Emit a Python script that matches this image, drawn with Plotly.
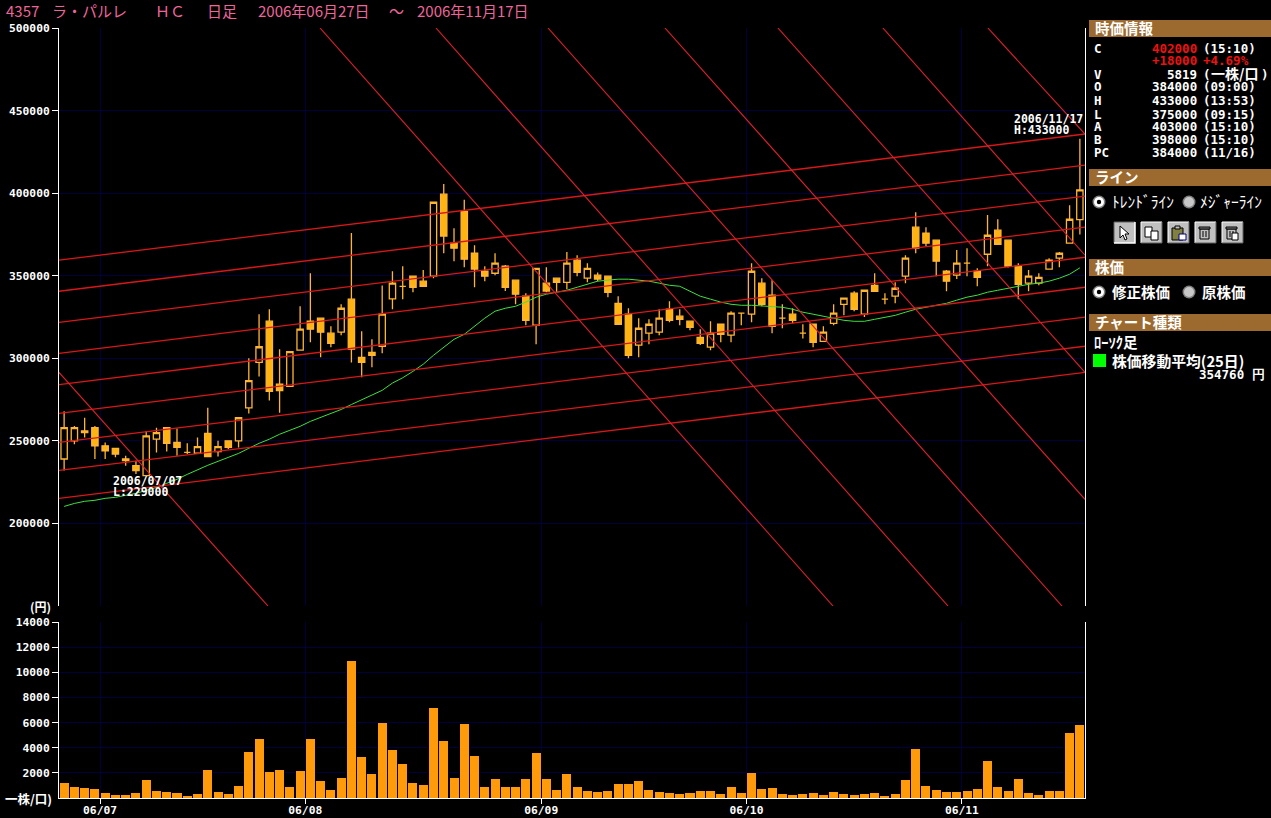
import plotly.graph_objects as go

OPEN = [239000,250000,256000,258000,247000,245500,239000,235000,229000,251000,
258000,249000,243000,242500,254500,243500,250000,250000,270000,297500,
322500,284300,283000,305000,322500,324300,315200,315800,335800,300600,
303600,307300,336000,343600,349700,346700,349700,399400,369700,389000,
363600,352700,351500,355800,347300,337600,320000,345500,348500,346000,
359400,348500,350300,349700,333300,326700,308000,315200,315800,329700,
325500,322500,312700,306700,320600,314000,327300,326700,345500,338200,
324300,326700,315200,320600,310300,321200,332700,339400,326700,344200,
335800,337600,349700,379400,375800,371500,352700,350300,357600,352700,
363000,377600,371500,355800,345500,345500,354000,360600,369700,384000]
HIGH = [268000,259000,264000,259000,249000,245500,241000,238000,256000,258000,
258000,257500,248500,252000,270000,250000,250000,264000,300000,326700,
329700,305500,304000,331500,351500,324300,319400,332700,375800,316400,
311500,344000,352700,355800,349700,353400,395000,405500,378800,396000,
368500,355800,363600,356500,347300,339400,354500,355200,348500,364300,
362400,357600,352000,349700,337600,330300,324300,323600,329700,334500,
329700,322500,317600,322500,320600,328500,327300,357600,348500,347300,
332700,330300,320600,320600,319400,332700,336400,340600,341200,351500,
339400,346000,362400,388500,379400,371500,353400,365500,366700,354500,
386700,384200,371500,357600,353400,351500,360600,364300,392700,433000]
LOW = [232000,248000,252000,239000,239000,240000,235000,230000,229000,243000,
243500,241000,242000,242500,240500,240500,245000,246000,266500,289000,
274500,267000,283000,305000,309700,300600,306700,314000,297500,288500,
294500,303000,329700,335800,340000,343600,348500,363600,358800,355200,
343000,346700,350300,340700,332700,320000,308500,340000,340000,341800,
349700,346000,346700,337000,320600,300000,300600,308500,314000,321800,
320000,317000,308000,304800,309700,309700,320000,321800,331500,315200,
318200,321200,312000,306700,310300,320000,326000,328500,325000,340600,
332700,333300,345500,363600,368000,349700,340600,348000,349700,343600,
355800,369000,355000,335800,340600,344200,354000,355200,369700,375000]
CLOSE = [258000,258000,255000,247000,244000,242000,238000,232000,253000,255000,
248500,246000,243000,246500,240500,246500,246000,264000,286500,307000,
280000,280500,304000,317600,317600,315800,309000,330300,305500,297500,
301800,326700,345500,343600,343000,343600,394500,374000,366700,360000,
354000,349700,357600,343000,338800,323000,354500,340700,346000,357600,
352000,354500,348000,340000,320600,301800,318200,320600,324300,323000,
323600,318800,309000,315200,314500,327300,327300,352700,332700,319400,
324300,323000,315200,309700,315800,327300,336400,329700,341200,340600,
335800,342400,360600,366700,369700,358800,346700,357600,357600,349000,
374500,369000,355800,344800,349700,349000,359400,363600,384200,402000]
VOLUME = [1200,880,800,720,400,240,240,400,1430,560,
480,400,160,320,2230,480,320,960,3670,4700,
2070,2230,880,2150,4700,1350,640,1600,10900,3270,
1910,5980,3820,2710,1200,1040,7170,4540,1590,5900,
3350,880,1510,880,880,1510,3590,1510,640,1910,
880,560,480,560,1120,1120,1350,640,480,400,
320,400,560,560,320,880,400,1990,720,800,
320,240,320,400,240,480,320,240,320,400,
160,320,1430,3900,960,640,480,480,560,720,
2950,880,560,1510,400,240,560,560,5180,5819]
MA25 = [210300,212100,213400,214000,215200,215800,217000,218200,220000,221800,
224300,226700,229700,232700,235200,237600,240000,242400,245500,248500,
251000,254000,256400,258800,261800,264300,266700,269000,272000,275000,
277600,280600,285000,288200,292100,296400,301800,306700,311500,314500,
319400,324300,328500,330300,331500,334000,337000,338800,340000,341200,
343000,344800,346700,347300,347900,347900,347300,346700,345500,344200,
343600,340600,337600,335800,334000,332700,332100,332100,331800,331500,
330900,329700,327900,326700,325500,324300,323000,322400,322400,323600,
324800,326000,327900,329700,330900,332100,333300,335200,337000,338200,
340000,341200,342400,343600,344800,345500,346700,348500,350900,354760]

PRICE_TICKS = [200000,250000,300000,350000,400000,450000,500000]
VOLUME_TICKS = [2000,4000,6000,8000,10000,12000,14000]
MONTH_POS = [4,24,47,67,88]
MONTH_LABELS = ["06/07","06/08","06/09","06/10","06/11"]

# trend lines, in (bar position, price)
UP_LEFT = [215200,232100,249100,266700,284000,303000,321800,340600,359400]
UP_RIGHT = [291500,307300,324900,343000,361200,379400,398200,417000,435800]
DOWN_START = [(0,291500),(25.44,500000),(36.74,500000),(47.66,500000),(59.06,500000),(70.07,500000),(80.3,500000),(90.53,500000)]
DOWN_END = [(20.37,150000),(75.44,150000),(86.65,150000),(97.76,150000),(100,214600),(100,291500),(100,362400),(100,435800)]

BAR_X = [i + 0.5 for i in range(len(CLOSE))]

W, H = 1271, 818
LEFT, RIGHT, TOP, BOTTOM = 59, 1085, 28, 798
PW, PH = RIGHT - LEFT, BOTTOM - TOP
def px(x): return (x - LEFT) / PW
def py(y): return (BOTTOM - y) / PH

MONO = "DejaVu Sans Mono"
CJK = "Noto Sans CJK JP"
GRID = "#00003c"
AMBER = "#ffb30f"
OUTLINE = "#ffb534"

fig = go.Figure()
fig.add_trace(go.Bar(x=BAR_X, y=VOLUME, width=0.88, marker=dict(color="#ff9a0a", line_width=0),
                     xaxis="x", yaxis="y2", showlegend=False))
fig.add_trace(go.Candlestick(x=BAR_X, open=OPEN, high=HIGH, low=LOW, close=CLOSE, xaxis="x2", yaxis="y",
    whiskerwidth=0, showlegend=False,
    increasing=dict(line=dict(color=OUTLINE, width=1.3), fillcolor="#000000"),
    decreasing=dict(line=dict(color=OUTLINE, width=1.3), fillcolor=AMBER)))
fig.add_trace(go.Scatter(x=BAR_X, y=MA25, mode="lines", line=dict(color="#3fe03f", width=1),
                         xaxis="x2", yaxis="y", showlegend=False))
for a, b in zip(UP_LEFT, UP_RIGHT):
    fig.add_trace(go.Scatter(x=[0, 100], y=[a, b], mode="lines", line=dict(color="#d81818", width=1.3),
                             xaxis="x2", yaxis="y", showlegend=False))
for s, e in zip(DOWN_START, DOWN_END):
    fig.add_trace(go.Scatter(x=[s[0], e[0]], y=[s[1], e[1]], mode="lines", line=dict(color="#e02030", width=1.1),
                             xaxis="x2", yaxis="y", showlegend=False))

ann = []
def text(x, y, t, color="#ffffff", size=12.5, family=MONO, anchor="left", bold=True):
    ann.append(dict(xref="paper", yref="paper", x=px(x), y=py(y), text=t, showarrow=False,
                    xanchor=anchor, yanchor="middle", borderpad=0, borderwidth=0,
                    font=dict(family=family, size=size, color=color, weight="bold" if bold else "normal")))
shapes = []
def rect(x0, y0, x1, y1, fill, line=None, lw=0):
    shapes.append(dict(type="rect", xref="paper", yref="paper", x0=px(x0), x1=px(x1), y0=py(y0), y1=py(y1),
                       fillcolor=fill, line=dict(color=line or fill, width=lw)))
def circle(cx, cy, r, fill, line=None, lw=0):
    shapes.append(dict(type="circle", xref="paper", yref="paper", x0=px(cx-r), x1=px(cx+r), y0=py(cy+r), y1=py(cy-r),
                       fillcolor=fill, line=dict(color=line or fill, width=lw)))
def poly(pts, fill=None, line="#000000", lw=1):
    d = "M " + " L ".join(f"{px(a)},{py(b)}" for a, b in pts) + (" Z" if fill else "")
    shapes.append(dict(type="path", xref="paper", yref="paper", path=d,
                       fillcolor=fill or "rgba(0,0,0,0)", line=dict(color=line, width=lw)))

# title
PINK = "#ee6699"
TY = 10.9
text(6, TY, "4357", PINK, 15, CJK, bold=False)
text(52, TY, "ラ・パルレ", PINK, 15, CJK, bold=False)
text(155, TY, "ＨＣ", PINK, 15, CJK, bold=False)
text(207, TY, "日足", PINK, 15, CJK, bold=False)
text(258, TY, "2006年06月27日", PINK, 15, CJK, bold=False)
text(389, TY, "～", PINK, 15, CJK, bold=False)
text(417, TY, "2006年11月17日", PINK, 15, CJK, bold=False)

# axis captions
text(51, 606, "(円)", "#ffffff", 12, CJK, "right")
text(52, 798, "一株/口)", "#ffffff", 12.5, CJK, "right")

# extreme labels
text(113, 481, "2006/07/07", size=11.5)
text(113, 492, "L:229000", size=11.5)
text(1014, 119, "2006/11/17", size=11.5)
text(1014, 130, "H:433000", size=11.5)

# side panel headers
BROWN = "#9c6a2f"
for y0, y1, t in [(20,37,"時価情報"),(169,186,"ライン"),(259,276,"株価"),(314,331,"チャート種類")]:
    rect(1089, y0, W, y1, BROWN)
    text(1095, (y0+y1)/2 - 1, t, "#ffffff", 14.5, CJK)

RED = "#ee1111"
rows = [(48,"C","402000","(15:10)",RED),(74,"V","5819",None,"#fff"),(87,"O","384000","(09:00)","#fff"),
        (101,"H","433000","(13:53)","#fff"),(114,"L","375000","(09:15)","#fff"),(127,"A","403000","(15:10)","#fff"),
        (139,"B","398000","(15:10)","#fff"),(152,"PC","384000","(11/16)","#fff")]
for y, lab, val, t, c in rows:
    text(1094, y, lab)
    text(1197, y, val, c, anchor="right")
    if t:
        text(1203, y, t)
text(1197, 61, "+18000", RED, anchor="right")
text(1203, 61, "+4.69%", RED)
text(1203, 74, "(", "#ffffff")
text(1211, 73, "一株/口", "#ffffff", 14, CJK)
text(1269, 74, ")", "#ffffff", anchor="right")

def radio(cx, cy, on):
    circle(cx, cy, 6.5, "#808080")
    circle(cx, cy, 5, "#ffffff" if on else "#c8c8c8")
    if on:
        circle(cx, cy, 2.2, "#000000")
radio(1099, 202, True); radio(1189, 202, False)
radio(1099, 292, True); radio(1189, 292, False)
text(1112, 201, "ﾄﾚﾝﾄﾞﾗｲﾝ", size=15.5, family=CJK, bold=False)
text(1200, 201, "ﾒｼﾞｬｰﾗｲﾝ", size=15.5, family=CJK, bold=False)
text(1112, 291.5, "修正株価", size=14.5, family=CJK)
text(1202, 291.5, "原株価", size=14.5, family=CJK)
text(1094, 341.5, "ﾛｰｿｸ足", size=14.5, family=CJK)
rect(1093, 354, 1106, 367, "#00ff00")
text(1112, 360, "株価移動平均(25日)", size=14.8, family=CJK)
text(1265, 374, "354760 円", size=12.5, anchor="right")

# toolbar buttons
for i, x0 in enumerate([1114, 1141, 1168, 1195, 1222]):
    x1 = x0 + 21; y0, y1 = 222, 243
    rect(x0, y0, x1, y1, "#c0c0c0")
    if i == 0:
        poly([(x0,y1),(x0,y0),(x1,y0)], line="#606060", lw=1)
        poly([(x0,y1),(x1,y1),(x1,y0)], line="#ffffff", lw=1.5)
    else:
        poly([(x0,y1),(x0,y0),(x1,y0)], line="#ffffff", lw=1)
        poly([(x0,y1),(x1,y1),(x1,y0)], line="#606060", lw=1)
ax = 1120
poly([(ax,226),(ax,238),(ax+3,235),(ax+5,240),(ax+7,239),(ax+5,234),(ax+9,234)], fill="#ffffff", line="#000000")
rect(1145, 227, 1152, 237, "#ffffff", "#000000", 1); rect(1151, 231, 1158, 240, "#ffffff", "#000000", 1)
rect(1172, 228, 1183, 240, "#808040", "#000000", 1); rect(1175, 226, 1180, 229, "#c0c0c0", "#000000", 1)
rect(1179, 234, 1186, 240, "#ffffff", "#000080", 1)
for x0 in (1200, 1227):
    rect(x0, 229, x0+9, 239, "#c0c0c0", "#000000", 1)
    rect(x0-1, 227, x0+10, 229, "#808080", "#000000", 1)
    poly([(x0+3,231),(x0+3,237)]); poly([(x0+6,231),(x0+6,237)])
rect(1232, 233, 1238, 240, "#ffffff", "#000000", 1)

fig.update_layout(
    width=W, height=H, paper_bgcolor="#000000", plot_bgcolor="#000000",
    margin=dict(l=LEFT, r=W-RIGHT, t=TOP, b=H-BOTTOM, pad=0, autoexpand=False),
    showlegend=False, bargap=0, boxgap=0.12, annotations=ann, shapes=shapes,
    xaxis=dict(domain=[0,1], anchor="y2", range=[0,100], tickmode="array", tickvals=MONTH_POS, ticktext=MONTH_LABELS,
               ticks="outside", ticklen=5, tickwidth=1, tickcolor="#ffffff", showline=True, linecolor="#ffffff", linewidth=1,
               showgrid=True, gridcolor=GRID, gridwidth=1, zeroline=False, ticklabelstandoff=-4,
               tickfont=dict(family=MONO, size=11.3, color="#ffffff", weight="bold"), rangeslider=dict(visible=False)),
    xaxis2=dict(domain=[0,1], anchor="y", matches="x", range=[0,100], tickmode="array", tickvals=MONTH_POS, showticklabels=False,
                ticks="", showline=False, showgrid=True, gridcolor=GRID, gridwidth=1, zeroline=False,
                rangeslider=dict(visible=False)),
    yaxis=dict(domain=[py(606), 1], range=[150000,500000], anchor="x2", tickmode="array", tickvals=PRICE_TICKS,
               tickformat="d", ticks="outside", ticklen=6, tickwidth=1, tickcolor="#ffffff", showline=True, linecolor="#ffffff",
               linewidth=1, mirror=True, showgrid=True, gridcolor=GRID, gridwidth=1, zeroline=False,
               tickfont=dict(family=MONO, size=11.3, color="#ffffff", weight="bold")),
    yaxis2=dict(domain=[0, py(622)], range=[0,14000], anchor="x", tickmode="array", tickvals=VOLUME_TICKS,
                tickformat="d", ticks="outside", ticklen=6, tickwidth=1, tickcolor="#ffffff", showline=True, linecolor="#ffffff",
                linewidth=1, mirror=True, showgrid=True, gridcolor=GRID, gridwidth=1, zeroline=False,
                tickfont=dict(family=MONO, size=11.3, color="#ffffff", weight="bold")),
)
fig.write_html("out.html", config={"displayModeBar": False},
               post_script="document.body.style.margin='0';document.body.style.overflow='hidden';document.body.style.background='#000';")
